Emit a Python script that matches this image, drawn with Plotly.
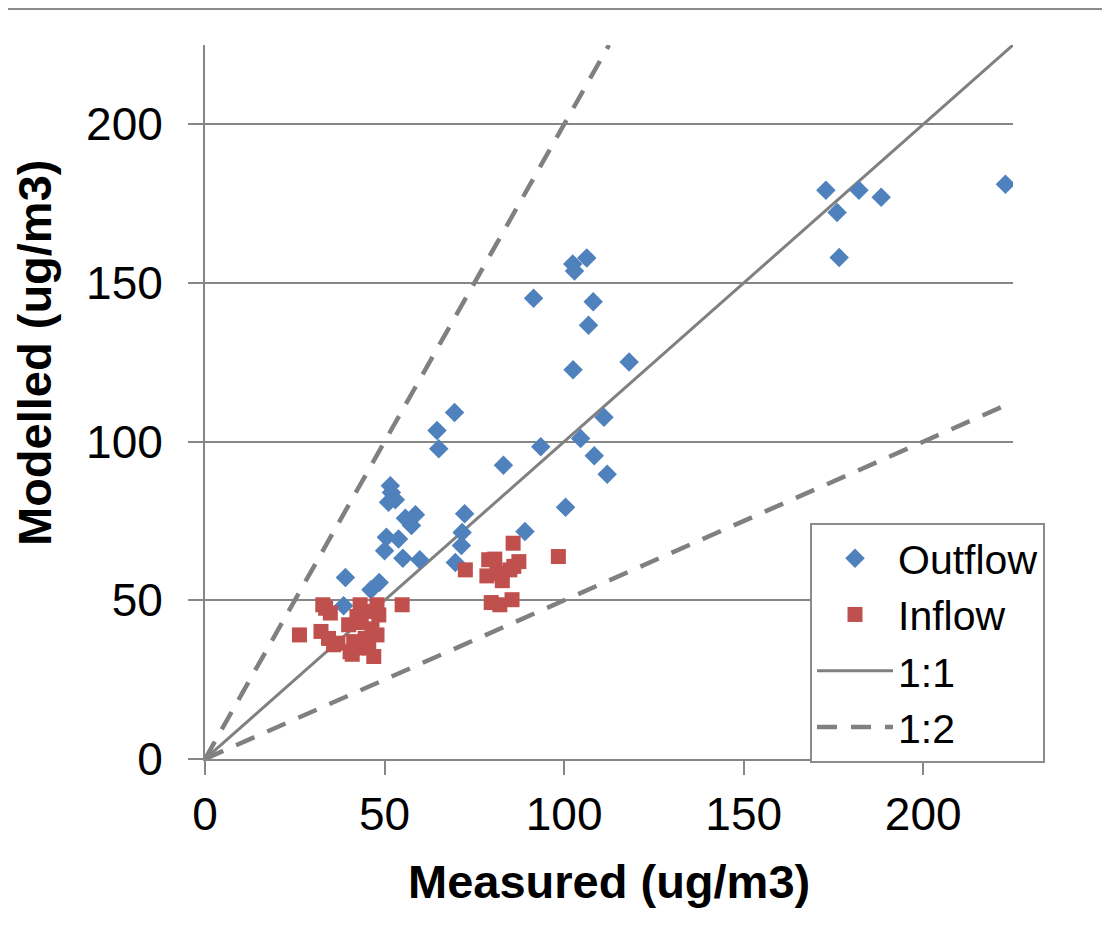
import plotly.graph_objects as go

# Outflow (blue diamonds): measured, modelled
outflow_measured = [222.9, 172.9, 182.1, 188.3, 176.0, 176.6, 106.3, 102.4, 102.9, 91.5,
                    108.1, 106.8, 118.1, 102.5, 69.5, 111.1, 64.6, 65.1, 104.6, 93.5,
                    108.4, 112.0, 83.1, 100.4, 72.3, 71.6, 89.1, 71.4, 69.7, 51.6,
                    51.9, 53.0, 51.1, 58.6, 55.8, 57.5, 50.5, 53.9, 50.0, 55.1,
                    59.8, 39.1, 48.5, 46.2, 38.6]
outflow_modelled = [181.1, 179.2, 179.2, 177.0, 172.2, 158.0, 157.9, 156.0, 153.8, 145.2,
                    144.1, 136.7, 125.1, 122.7, 109.2, 107.7, 103.5, 97.8, 101.0, 98.4,
                    95.6, 89.7, 92.6, 79.3, 77.3, 71.4, 71.7, 67.3, 61.9, 86.1,
                    84.0, 81.7, 80.9, 77.0, 75.9, 73.6, 69.9, 69.3, 65.6, 63.3,
                    62.8, 57.2, 55.6, 53.3, 48.3]

# Inflow (red squares): measured, modelled
inflow_measured = [85.8, 98.4, 72.5, 79.0, 80.7, 87.4, 86.0, 78.5, 81.3, 82.8,
                   84.9, 79.7, 82.1, 85.5, 54.9,
                   26.3, 32.8, 33.6, 34.9, 32.3, 34.4, 35.8, 37.0, 40.0, 40.4,
                   41.4, 42.3, 42.8, 43.2, 43.5, 44.6, 45.0, 45.6, 46.5, 47.0,
                   47.9, 47.9, 48.4, 41.0]
inflow_modelled = [68.0, 63.8, 59.6, 62.8, 63.0, 62.2, 60.7, 57.7, 58.5, 56.2,
                   59.6, 49.3, 48.6, 50.2, 48.6,
                   39.1, 48.6, 47.5, 46.0, 40.2, 38.0, 36.0, 36.5, 42.3, 33.8,
                   37.0, 44.9, 35.0, 48.6, 43.0, 38.0, 46.5, 35.0, 41.0, 32.3,
                   48.6, 39.1, 45.4, 33.0]

# Reference lines
line_1to1_x = [0, 225]
line_1to1_y = [0, 225]
line_1to2_x = [0, 112.5, None, 0, 225]
line_1to2_y = [0, 225, None, 0, 112.5]

x_ticks = [0, 50, 100, 150, 200]
y_ticks = [0, 50, 100, 150, 200]

FONT = "Liberation Sans, Arial, sans-serif"
GRAY = "#868686"
BLUE = "#4F81BD"
RED = "#C0504D"

fig = go.Figure()
fig.add_trace(go.Scatter(x=line_1to1_x, y=line_1to1_y, mode="lines", name="1:1",
                         line=dict(color="#808080", width=3), legendrank=3))
fig.add_trace(go.Scatter(x=line_1to2_x, y=line_1to2_y, mode="lines", name="1:2",
                         line=dict(color="#808080", width=4.5, dash="20px,14px"),
                         legendrank=4))
fig.add_trace(go.Scatter(x=outflow_measured, y=outflow_modelled, mode="markers",
                         name="Outflow", legendrank=1,
                         marker=dict(symbol="diamond", size=15, color=BLUE, line=dict(width=0))))
fig.add_trace(go.Scatter(x=inflow_measured, y=inflow_modelled, mode="markers",
                         name="Inflow", legendrank=2,
                         marker=dict(symbol="square", size=15, color=RED, line=dict(width=0))))

# page body has an 8px margin, so target pixel positions are shifted by 8
OFF = 8
L, R, T, B = 205 - OFF, 97, 45 - OFF, 175
W, H = 1110 - OFF, 934 - OFF
PW, PH = W - L - R, H - T - B  # 808 x 714


def px_x(px):
    return (px - 205) / PW


def px_y(py):
    return (759 - py) / PH


fig.update_layout(
    width=W, height=H,
    margin=dict(l=L, r=R, t=T, b=B),
    paper_bgcolor="white", plot_bgcolor="white",
    font=dict(family=FONT, size=46, color="black"),
    showlegend=True,
    legend=dict(x=px_x(810), y=px_y(523), xanchor="left", yanchor="top",
                bordercolor="#8c8c8c", borderwidth=2, bgcolor="white",
                font=dict(size=41), itemwidth=76, tracegroupgap=0),
    xaxis=dict(range=[0, 225], tickvals=x_ticks, ticks="outside", ticklen=14,
               tickcolor=GRAY, tickwidth=2, showgrid=False, showline=True,
               linecolor=GRAY, linewidth=2, zeroline=False,
               tickfont=dict(size=46)),
    yaxis=dict(range=[0, 225], tickvals=y_ticks, ticks="outside", ticklen=15,
               tickcolor=GRAY, tickwidth=2, showgrid=True, gridcolor=GRAY, gridwidth=2,
               showline=True, linecolor=GRAY, linewidth=2, zeroline=False,
               ticklabelstandoff=16, tickfont=dict(size=46)),
    annotations=[
        dict(text="<b>Measured (ug/m3)</b>", xref="paper", yref="paper",
             x=px_x(609), y=px_y(881), xanchor="center", yanchor="middle",
             showarrow=False, font=dict(size=47)),
        dict(text="<b>Modelled (ug/m3)</b>", xref="paper", yref="paper",
             x=px_x(34), y=px_y(353), xanchor="center", yanchor="middle",
             textangle=-90, showarrow=False, borderpad=0, font=dict(size=47)),
    ],
    shapes=[dict(type="line", xref="paper", yref="paper",
                 x0=-L / PW, x1=(W - L) / PW,
                 y0=px_y(9), y1=px_y(9),
                 line=dict(color="#8c8c8c", width=2))],
)

fig.write_html("out.html")
